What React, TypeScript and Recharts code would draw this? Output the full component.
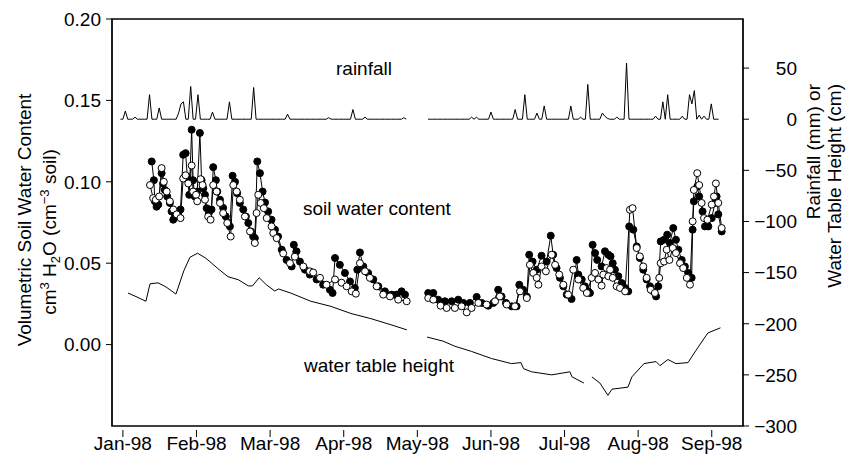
import React from 'react';
import { ComposedChart, Line, XAxis, YAxis, ReferenceArea } from 'recharts';

const FONT = 'Liberation Sans, Arial, Helvetica, sans-serif';

// x values are days since 1 Jan 1998 (months drawn at equal width)
const MONTHS = ['Jan-98', 'Feb-98', 'Mar-98', 'Apr-98', 'May-98', 'Jun-98', 'Jul-98', 'Aug-98', 'Sep-98'];
const MONTH_LEN = 30.4;
const X_DOMAIN: [number, number] = [-4.5, 256.1];
const LEFT_TICKS = [0, 0.05, 0.1, 0.15, 0.2];
const RIGHT_TICKS = [-300, -250, -200, -150, -100, -50, 0, 50];
const GAP_DAY = 121;

// rainfall (mm): [day, mm] for rainy days, other days 0
const rainPeriod1: [number, number] = [-1, 117];
const rainPeriod2: [number, number] = [126, 246];
const rainEvents: [number, number][] = [
  [1, 8], [5, 2], [11, 24], [15, 11], [23, 6], [24, 15], [25, 17], [28, 32], [31, 24], [37, 7],
  [44, 17], [54, 31], [68, 5], [85, 1.5], [95, 9.5], [100, 2], [116, 1.5],
  [144, 2], [146, 2], [152, 7], [162, 9.5], [166, 24], [171, 6], [174, 13], [185, 13], [189, 2],
  [192, 34], [198, 6], [199, 3], [200, 1], [204, 2], [208, 55], [220, 3], [223, 17], [225, 24],
  [231, 3], [234, 24], [235, 15], [236, 28], [238, 4], [240, 3], [243, 15],
];

// water table height (cm)
const waterTable1: [number, number][] = [
  [2.1, -170], [5, -173], [9.5, -178], [11.2, -161], [14.5, -160], [17.8, -164], [21.9, -171],
  [25.2, -148], [27.7, -135], [30.8, -131], [34.3, -136], [39.2, -146], [43.4, -154], [47.7, -157],
  [51.8, -163], [53.5, -163], [56.3, -155], [59.3, -162], [62.7, -168], [64.3, -166], [69.3, -170],
  [77.6, -178], [85.9, -183], [94.2, -190], [102.4, -195], [110.7, -201], [117.3, -206],
];
const waterTable2: [number, number][] = [
  [125.6, -213], [132.2, -217], [137.1, -222], [143.9, -227], [152.2, -234], [160.5, -239],
  [164.4, -238], [165.5, -244], [168.8, -247], [177.1, -250], [184.6, -247], [185.5, -252], [190.4, -258],
];
const waterTable3: [number, number][] = [
  [193.7, -252], [197, -258], [200.3, -270], [202, -264], [208.6, -262], [210.2, -252], [215.2, -239],
  [220.2, -237], [221.8, -241], [225.1, -235], [228.4, -239], [233.4, -238], [236.7, -226],
  [241.6, -209], [246.8, -204],
];

// soil water content (cm3/cm3), filled-circle series
const soilFilled1: [number, number][] = [
  [11.9, 0.1125], [12.8, 0.101], [13.2, 0.088], [13.9, 0.0847], [14.6, 0.086], [16.0, 0.1053], [16.6, 0.099],
  [17.3, 0.095], [18.3, 0.091], [19.4, 0.087], [20.1, 0.0818], [20.8, 0.0767], [21.5, 0.0787], [22.8, 0.08],
  [23.8, 0.083], [24.9, 0.1166], [25.9, 0.1176], [26.6, 0.103], [27.4, 0.092], [28.4, 0.132], [29.0, 0.101],
  [29.7, 0.091], [30.7, 0.094], [31.8, 0.13], [32.5, 0.101], [33.2, 0.096], [33.9, 0.092], [34.6, 0.0838],
  [35.5, 0.0808], [36.6, 0.083], [37.3, 0.109], [38.4, 0.101], [39.0, 0.094], [40.1, 0.089], [41.4, 0.084],
  [42.5, 0.0787], [43.5, 0.0747], [44.2, 0.0726], [45.3, 0.1037], [46.3, 0.1], [47.2, 0.093], [48.3, 0.087],
  [49.7, 0.083], [50.8, 0.0787], [51.8, 0.0747], [52.9, 0.0695], [53.8, 0.0664], [54.5, 0.0654], [55.5, 0.1125],
  [56.6, 0.1053], [57.7, 0.094], [58.7, 0.0873], [60.0, 0.0818], [61.4, 0.0767], [62.8, 0.0706], [64.1, 0.0664],
  [65.6, 0.0583], [67.6, 0.052], [69.7, 0.048], [70.6, 0.0613], [71.7, 0.0573], [73.1, 0.051], [75.2, 0.046],
  [77.2, 0.043], [80.0, 0.04], [82.7, 0.0368], [85.5, 0.0337], [86.6, 0.0317], [87.6, 0.0532], [89.6, 0.049],
  [91.7, 0.044], [93.8, 0.0388], [95.8, 0.0348], [96.8, 0.046], [97.9, 0.0566], [99.3, 0.048], [101.3, 0.044],
  [103.4, 0.04], [105.5, 0.0358], [108.2, 0.0327], [111.0, 0.0307], [113.1, 0.0307], [115.1, 0.0327], [116.5, 0.0307],
];
const soilFilled2: [number, number][] = [
  [126.1, 0.0317], [128.2, 0.0317], [130.2, 0.0276], [133.0, 0.0266], [135.8, 0.0266], [138.5, 0.0276],
  [140.6, 0.0256], [143.3, 0.0256], [146.1, 0.0293], [148.2, 0.0256], [150.9, 0.0239], [153.0, 0.0256],
  [155.0, 0.0337], [156.4, 0.0296], [158.2, 0.0256], [160.6, 0.0235], [162.6, 0.0235], [163.7, 0.0368],
  [165.3, 0.0337], [166.8, 0.0296], [167.8, 0.0552], [169.2, 0.051], [170.9, 0.046], [172.9, 0.0546],
  [175.0, 0.051], [176.7, 0.0669], [177.7, 0.0552], [179.1, 0.047], [180.5, 0.041], [181.9, 0.0358],
  [183.3, 0.0307], [185.3, 0.028], [187.4, 0.052], [188.1, 0.043], [189.5, 0.04], [190.8, 0.0358],
  [192.2, 0.0327], [192.9, 0.0317], [194.0, 0.0613], [195.0, 0.0562], [195.9, 0.052], [197.7, 0.048],
  [199.1, 0.0573], [200.5, 0.0552], [201.4, 0.0542], [202.3, 0.05], [203.2, 0.046], [204.6, 0.042],
  [206.0, 0.0378], [207.4, 0.0348], [208.7, 0.0327], [209.1, 0.0726], [210.8, 0.0706], [212.2, 0.0603],
  [213.5, 0.0532], [214.9, 0.046], [216.3, 0.04], [217.7, 0.0358], [219.0, 0.0327], [220.2, 0.0296],
  [221.1, 0.0358], [222.1, 0.0634], [223.5, 0.0644], [224.8, 0.0675], [225.9, 0.0624], [227.3, 0.0716],
  [228.4, 0.0644], [229.4, 0.0583], [230.8, 0.052], [232.1, 0.048], [233.5, 0.044], [234.9, 0.041],
  [235.3, 0.0706], [235.8, 0.088], [237.2, 0.097], [238.0, 0.091], [239.4, 0.0818], [240.4, 0.0726],
  [241.8, 0.0726], [243.2, 0.0777], [244.5, 0.087], [245.2, 0.091], [245.9, 0.08], [247.3, 0.0695],
];

// soil water content, open-circle series
const soilOpen1: [number, number][] = [
  [11.2, 0.098], [12.5, 0.09], [13.6, 0.089], [15.0, 0.091], [16.0, 0.1084], [16.9, 0.1], [18.1, 0.094],
  [19.4, 0.088], [20.8, 0.083], [22.2, 0.08], [23.8, 0.0777], [24.9, 0.102], [25.9, 0.104], [27.0, 0.099],
  [28.4, 0.11], [29.0, 0.094], [30.2, 0.092], [30.7, 0.088], [32.1, 0.1016], [32.9, 0.098], [33.9, 0.089],
  [35.2, 0.0787], [36.2, 0.0767], [37.3, 0.098], [38.7, 0.094], [40.1, 0.087], [41.4, 0.0808], [43.1, 0.0747],
  [44.5, 0.0664], [45.6, 0.098], [47.0, 0.094], [48.3, 0.089], [50.4, 0.0787], [52.5, 0.0695], [54.5, 0.0624],
  [55.2, 0.0808], [55.9, 0.092], [56.9, 0.087], [58.2, 0.0838], [59.4, 0.0777], [61.4, 0.0726], [62.1, 0.0685],
  [63.5, 0.0654], [66.2, 0.056], [69.0, 0.05], [71.0, 0.054], [74.5, 0.048], [77.2, 0.045], [78.6, 0.0443],
  [81.4, 0.041], [84.1, 0.0368], [87.6, 0.04], [90.3, 0.038], [92.4, 0.0358], [94.5, 0.0327], [96.2, 0.0313],
  [97.9, 0.05], [100.0, 0.045], [102.0, 0.041], [104.8, 0.0358], [107.5, 0.0307], [110.3, 0.0296],
  [113.7, 0.0276], [117.2, 0.0266],
];
const soilOpen2: [number, number][] = [
  [126.1, 0.0286], [128.2, 0.0276], [131.2, 0.0239], [133.7, 0.0225], [137.1, 0.0225], [139.9, 0.0235],
  [142.0, 0.0198], [144.0, 0.0225], [146.8, 0.0256], [150.2, 0.0246], [153.7, 0.0266], [155.7, 0.0296],
  [158.5, 0.0246], [161.9, 0.0235], [164.0, 0.0327], [166.8, 0.0286], [168.1, 0.049], [169.5, 0.044],
  [170.9, 0.041], [171.6, 0.0368], [172.9, 0.048], [174.7, 0.045], [177.1, 0.0552], [178.5, 0.049],
  [180.2, 0.043], [181.9, 0.0368], [183.9, 0.0307], [186.0, 0.046], [188.1, 0.04], [190.1, 0.0348],
  [191.6, 0.0317], [193.6, 0.041], [195.0, 0.044], [196.4, 0.04], [197.7, 0.0362], [198.4, 0.043],
  [199.8, 0.047], [200.5, 0.042], [201.2, 0.046], [202.3, 0.041], [203.9, 0.0358], [205.3, 0.0348],
  [207.4, 0.0327], [209.4, 0.0828], [210.5, 0.0838], [212.2, 0.0593], [213.5, 0.0542], [214.9, 0.048],
  [216.3, 0.041], [218.0, 0.0337], [219.7, 0.0317], [221.5, 0.041], [222.1, 0.05], [223.5, 0.051],
  [224.6, 0.0583], [225.7, 0.052], [227.1, 0.0593], [228.4, 0.0562], [230.1, 0.05], [231.4, 0.047],
  [232.9, 0.041], [234.2, 0.0368], [235.3, 0.0757], [235.8, 0.095], [237.2, 0.1053], [238.0, 0.098],
  [239.0, 0.087], [240.0, 0.0777], [241.4, 0.0767], [243.2, 0.086], [244.1, 0.091], [244.9, 0.099],
  [245.9, 0.087], [247.3, 0.0716],
];

type Pt = { d: number; v: number | null };
const pts = (a: [number, number][]): Pt[] => a.map(([d, v]) => ({ d, v }));
const gap = (d: number): Pt => ({ d, v: null });

const rainMap = new Map(rainEvents.map(([d, v]) => [d, v] as [number, number]));
const dailyRain = ([s, e]: [number, number]): Pt[] => {
  const out: Pt[] = [];
  for (let d = s; d <= e; d++) out.push({ d, v: rainMap.get(d) ?? 0 });
  return out;
};

const rainData: Pt[] = [...dailyRain(rainPeriod1), gap(GAP_DAY), ...dailyRain(rainPeriod2)];
const waterData: Pt[] = [...pts(waterTable1), gap(GAP_DAY), ...pts(waterTable2), gap(192), ...pts(waterTable3)];
const filledData: Pt[] = [...pts(soilFilled1), gap(GAP_DAY), ...pts(soilFilled2)];
const openData: Pt[] = [...pts(soilOpen1), gap(GAP_DAY), ...pts(soilOpen2)];
const monthTicks = MONTHS.map((_, i) => i * MONTH_LEN);

const fmtRight = (v: number) => (v < 0 ? '\u2212' + Math.abs(v) : String(v));

const XTick = (props: any) => {
  const { x, y, index } = props;
  return (
    <g>
      <line x1={x} x2={x} y1={y + 4} y2={y + 11} stroke="#000" strokeWidth={1} />
      <text x={x} y={y + 24} textAnchor="middle" fontSize={19} fontFamily={FONT} fill="#000">
        {MONTHS[index]}
      </text>
    </g>
  );
};

const RightTick = (props: any) => {
  const { x, y, payload } = props;
  return (
    <text x={x + 48} y={y} dy="0.36em" textAnchor="end" fontSize={19} fontFamily={FONT} fill="#000">
      {fmtRight(payload.value)}
    </text>
  );
};

export default function App() {
  const W = 846;
  const H = 458;
  return (
    <div style={{ position: 'absolute', left: 0, top: 0, width: W, height: H, background: '#fff' }}>
      <ComposedChart width={W} height={H} margin={{ top: 19, right: 43, bottom: 0, left: 52 }}>
        <XAxis
          dataKey="d"
          type="number"
          domain={X_DOMAIN}
          ticks={monthTicks}
          interval={0}
          allowDataOverflow
          axisLine={false}
          tickLine={false}
          tickSize={0}
          tickMargin={0}
          height={32}
          tick={<XTick />}
        />
        <YAxis
          yAxisId="left"
          domain={[-0.05, 0.2]}
          ticks={LEFT_TICKS}
          allowDataOverflow
          width={60}
          tickSize={6}
          tickMargin={5}
          tickFormatter={(v: number) => v.toFixed(2)}
          axisLine={{ stroke: '#000' }}
          tickLine={{ stroke: '#000' }}
          tick={{ fontSize: 19, fontFamily: FONT, fill: '#000' }}
        />
        <YAxis
          yAxisId="right"
          orientation="right"
          domain={[-300, 98]}
          ticks={RIGHT_TICKS}
          allowDataOverflow
          width={60}
          tickSize={6}
          tickMargin={0}
          axisLine={{ stroke: '#000' }}
          tickLine={{ stroke: '#000' }}
          tick={<RightTick />}
        />
        <ReferenceArea
          yAxisId="left"
          x1={X_DOMAIN[0]}
          x2={X_DOMAIN[1]}
          y1={-0.05}
          y2={0.2}
          fill="none"
          fillOpacity={0}
          stroke="#000"
          strokeWidth={1.5}
          ifOverflow="visible"
        />
        <Line data={rainData} dataKey="v" yAxisId="right" type="linear" stroke="#000" strokeWidth={1} dot={false} isAnimationActive={false} />
        <Line data={waterData} dataKey="v" yAxisId="right" type="linear" stroke="#000" strokeWidth={1} dot={false} isAnimationActive={false} />
        <Line
          data={filledData}
          dataKey="v"
          yAxisId="left"
          type="linear"
          stroke="#000"
          strokeWidth={1}
          dot={{ r: 3.5, fill: '#000', stroke: '#000', strokeWidth: 1 }}
          isAnimationActive={false}
        />
        <Line
          data={openData}
          dataKey="v"
          yAxisId="left"
          type="linear"
          stroke="#000"
          strokeWidth={1}
          dot={{ r: 3.5, fill: '#fff', stroke: '#000', strokeWidth: 1 }}
          isAnimationActive={false}
        />
      </ComposedChart>
      <svg
        width={W}
        height={H}
        style={{ position: 'absolute', left: 0, top: 0, pointerEvents: 'none' }}
        fontFamily={FONT}
        fontSize={19}
        fill="#000"
      >
        <text x={336} y={75}>rainfall</text>
        <text x={303} y={215}>soil water content</text>
        <text x={304} y={372}>water table height</text>
        <text transform="translate(31,220) rotate(-90)" textAnchor="middle">Volumetric Soil Water Content</text>
        <text transform="translate(56,232) rotate(-90)" textAnchor="middle">
          cm<tspan fontSize={13} dy={-7}>3</tspan>
          <tspan dy={7}> H</tspan>
          <tspan fontSize={13} dy={4}>2</tspan>
          <tspan dy={-4}>O (cm</tspan>
          <tspan fontSize={13} dy={-7}>{'\u22123'}</tspan>
          <tspan dy={7}> soil)</tspan>
        </text>
        <text transform="translate(820,84) rotate(-90)" textAnchor="end">Rainfall (mm) or</text>
        <text transform="translate(841,84) rotate(-90)" textAnchor="end">Water Table Height (cm)</text>
      </svg>
    </div>
  );
}
